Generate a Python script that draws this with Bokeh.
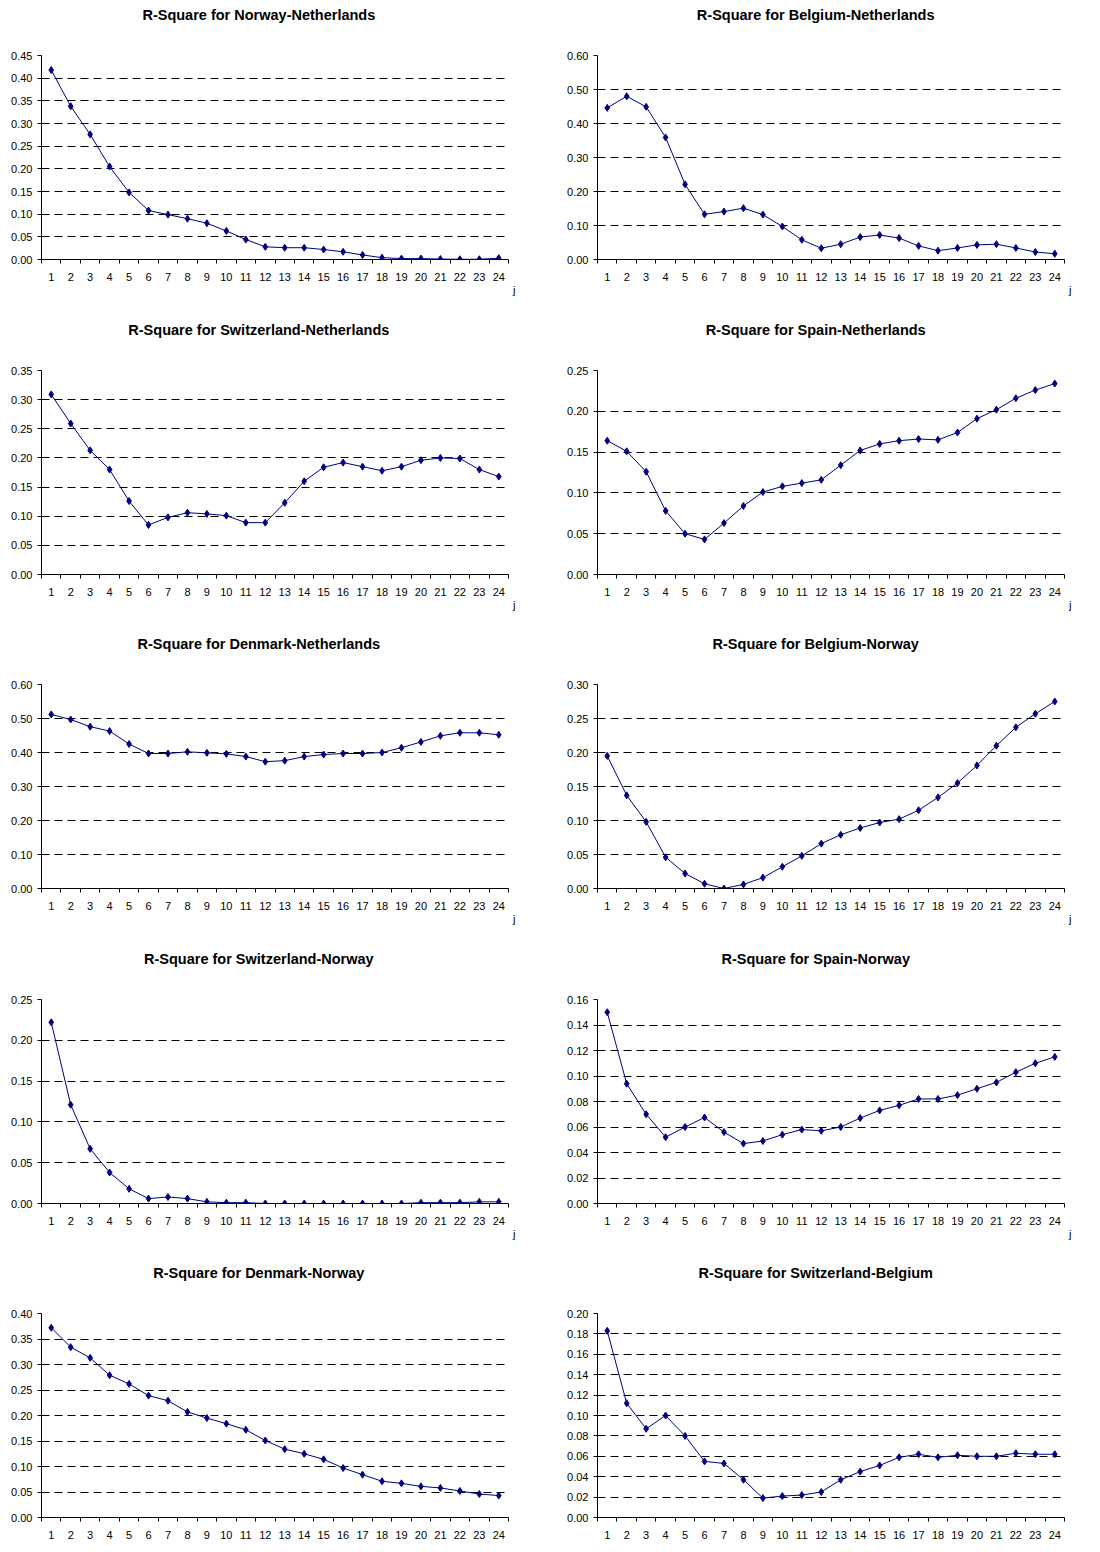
from bokeh.plotting import figure
from bokeh.layouts import column, row
from bokeh.models import FixedTicker, PrintfTickFormatter, Range1d, Title
from bokeh.core.properties import value
from bokeh.embed import file_html
from bokeh.resources import INLINE

# ---------------- data ----------------
lags = list(range(1, 25))
lag_labels = [str(j) for j in lags]

norway_netherlands = [0.418, 0.338, 0.276, 0.205, 0.148, 0.108, 0.099, 0.090, 0.080, 0.063, 0.044, 0.028,
                      0.026, 0.026, 0.022, 0.017, 0.010, 0.004, 0.002, 0.002, 0.001, 0.0005, 0.0005, 0.003]
belgium_netherlands = [0.446, 0.480, 0.449, 0.359, 0.221, 0.133, 0.141, 0.151, 0.132, 0.097, 0.058, 0.033,
                       0.045, 0.066, 0.072, 0.063, 0.040, 0.026, 0.034, 0.043, 0.045, 0.034, 0.022, 0.017]
switzerland_netherlands = [0.309, 0.259, 0.213, 0.180, 0.126, 0.085, 0.098, 0.106, 0.104, 0.101, 0.089, 0.089,
                           0.123, 0.160, 0.184, 0.192, 0.185, 0.178, 0.185, 0.196, 0.200, 0.199, 0.180, 0.168]
spain_netherlands = [0.164, 0.151, 0.126, 0.078, 0.050, 0.043, 0.063, 0.084, 0.101, 0.108, 0.112, 0.116,
                     0.134, 0.152, 0.160, 0.164, 0.166, 0.165, 0.174, 0.191, 0.202, 0.216, 0.226, 0.234]
denmark_netherlands = [0.512, 0.497, 0.476, 0.463, 0.425, 0.397, 0.397, 0.402, 0.399, 0.396, 0.388, 0.373,
                       0.376, 0.388, 0.394, 0.397, 0.397, 0.400, 0.414, 0.431, 0.449, 0.458, 0.458, 0.452]
belgium_norway = [0.195, 0.137, 0.098, 0.046, 0.022, 0.007, 0.000, 0.006, 0.016, 0.032, 0.048, 0.066,
                  0.079, 0.089, 0.097, 0.102, 0.115, 0.134, 0.155, 0.181, 0.210, 0.237, 0.257, 0.275]
switzerland_norway = [0.222, 0.121, 0.067, 0.038, 0.018, 0.006, 0.008, 0.006, 0.002, 0.001, 0.001, 0.000,
                      0.000, 0.000, 0.000, 0.000, 0.000, 0.000, 0.000, 0.001, 0.001, 0.001, 0.002, 0.002]
spain_norway = [0.150, 0.094, 0.070, 0.052, 0.060, 0.0675, 0.056, 0.047, 0.049, 0.054, 0.058, 0.057,
                0.060, 0.067, 0.073, 0.077, 0.082, 0.082, 0.085, 0.090, 0.095, 0.103, 0.110, 0.115]
denmark_norway = [0.372, 0.334, 0.313, 0.279, 0.262, 0.239, 0.229, 0.207, 0.195, 0.184, 0.172, 0.151,
                  0.134, 0.125, 0.114, 0.097, 0.084, 0.071, 0.067, 0.061, 0.058, 0.052, 0.046, 0.043]
switzerland_belgium = [0.183, 0.112, 0.087, 0.100, 0.080, 0.055, 0.053, 0.037, 0.019, 0.021, 0.022, 0.025,
                       0.037, 0.045, 0.051, 0.059, 0.062, 0.059, 0.061, 0.060, 0.060, 0.063, 0.062, 0.062]

titles = ["R-Square for Norway-Netherlands", "R-Square for Belgium-Netherlands",
          "R-Square for Switzerland-Netherlands", "R-Square for Spain-Netherlands",
          "R-Square for Denmark-Netherlands", "R-Square for Belgium-Norway",
          "R-Square for Switzerland-Norway", "R-Square for Spain-Norway",
          "R-Square for Denmark-Norway", "R-Square for Switzerland-Belgium"]
series = [norway_netherlands, belgium_netherlands, switzerland_netherlands, spain_netherlands,
          denmark_netherlands, belgium_norway, switzerland_norway, spain_norway,
          denmark_norway, switzerland_belgium]
y_max = [0.45, 0.60, 0.35, 0.25, 0.60, 0.30, 0.25, 0.16, 0.40, 0.20]
y_step = [0.05, 0.10, 0.05, 0.05, 0.10, 0.05, 0.05, 0.02, 0.05, 0.02]
x_title = "j"

# ---------------- layout ----------------
FONT = "Liberation Sans"
NAVY = "#000080"
FIG_W = 549
FRAME_W = 467
FRAME_H = 204
TITLE_H = 40          # height of the strip that carries the panel title
TOP = 15              # gap between title strip and plot frame
row_heights = [315, 314, 315, 314, 291]


def border_left(idx):
    return 41 if idx % 2 == 0 else 48


def make_title(idx):
    t = figure(width=FIG_W, height=TITLE_H, output_backend="svg", toolbar_location=None,
               x_range=Range1d(0, FIG_W), y_range=Range1d(0, TITLE_H),
               x_axis_location=None, y_axis_location=None,
               min_border=0, min_border_left=0, min_border_right=0,
               min_border_top=0, min_border_bottom=0)
    t.outline_line_color = None
    t.grid.visible = False
    t.background_fill_color = "white"
    t.border_fill_color = "white"
    shift = -19 if idx % 2 == 0 else -25
    cx = border_left(idx) + FRAME_W / 2.0 + shift
    t.text(x=[cx], y=[TITLE_H - 14], text=[titles[idx]], text_align="center",
           text_baseline="middle", text_font=value(FONT), text_font_style="bold",
           text_font_size="14.5px", text_color="black")
    return t


def make_panel(idx, height, with_j=True):
    bl = border_left(idx)
    br = FIG_W - bl - FRAME_W
    ymax = y_max[idx]
    step = y_step[idx]
    nt = int(round(ymax / step))
    yticks = [round(k * step, 4) for k in range(nt + 1)]

    p = figure(width=FIG_W, height=height, output_backend="svg", toolbar_location=None,
               x_range=Range1d(0.5, 24.5), y_range=Range1d(0, ymax),
               min_border_left=bl, min_border_right=br, min_border_top=TOP,
               min_border_bottom=height - TOP - FRAME_H)
    p.outline_line_color = None
    p.background_fill_color = "white"
    p.border_fill_color = "white"
    xax = p.below[0]
    yax = p.left[0]

    # x axis: labels under categories, tick marks between them
    xax.ticker = FixedTicker(ticks=lags, minor_ticks=[j - 0.5 for j in lags] + [24.5])
    xax.major_label_overrides = {j: lab for j, lab in zip(lags, lag_labels)}
    xax.major_tick_out = 0
    xax.major_tick_in = 0
    xax.minor_tick_out = 4
    xax.minor_tick_in = 0
    xax.minor_tick_line_color = "black"
    xax.major_label_standoff = 9
    # y axis
    yax.ticker = FixedTicker(ticks=yticks, minor_ticks=[])
    yax.formatter = PrintfTickFormatter(format="%.2f")
    yax.major_tick_out = 4
    yax.major_tick_in = 0
    yax.minor_tick_out = 0
    yax.minor_tick_in = 0
    yax.major_label_standoff = 5
    for ax in (xax, yax):
        ax.axis_line_color = "black"
        ax.major_tick_line_color = "black"
        ax.major_label_text_font = FONT
        ax.major_label_text_font_size = "11px"
        ax.major_label_text_color = "black"

    if with_j:
        p.add_layout(Title(text=x_title, align="right", offset=-7, standoff=0,
                           vertical_align="top", text_font=FONT, text_font_style="normal",
                           text_font_size="11px", text_color="black"), "below")

    p.xgrid.visible = False
    p.ygrid.ticker = FixedTicker(ticks=yticks[1:])
    p.ygrid.grid_line_color = "black"
    p.ygrid.grid_line_dash = "8 5"
    p.ygrid.grid_line_width = 1

    vals = series[idx]
    p.line(lags, vals, line_color=NAVY, line_width=1)
    p.scatter(lags, vals, marker="diamond", size=7, fill_color=NAVY, line_color=NAVY)
    return p


rows = []
for r in range(5):
    h = row_heights[r] - TITLE_H
    last = r == 4
    cells = []
    for c in range(2):
        idx = 2 * r + c
        cells.append(column(make_title(idx), make_panel(idx, h, not last)))
    rows.append(row(*cells))

layout = column(*rows)
open("out.html", "w").write(file_html(layout, INLINE))
